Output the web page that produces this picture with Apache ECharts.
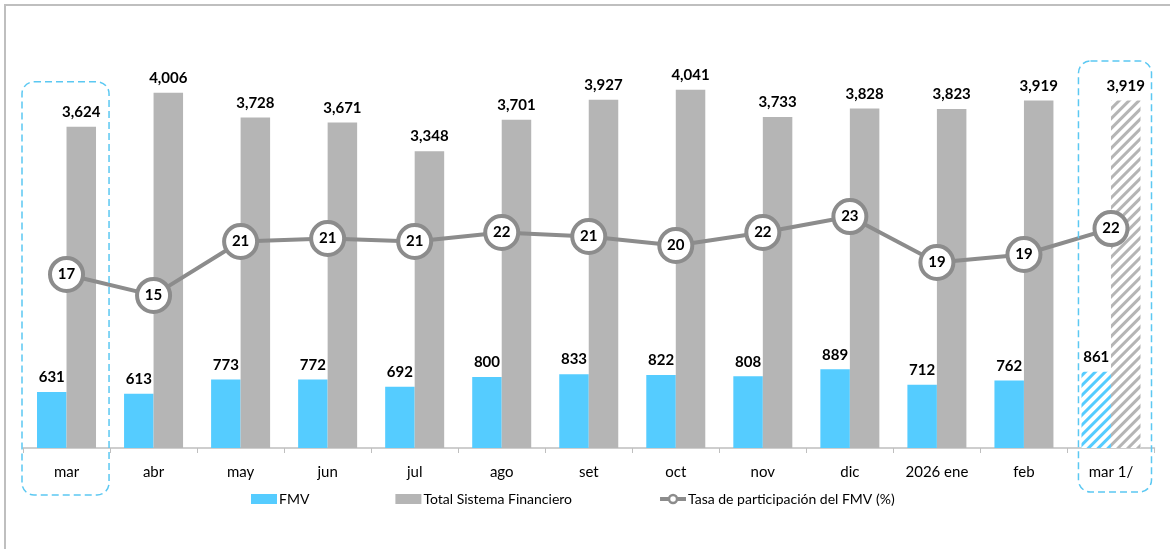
<!DOCTYPE html>
<html>
<head>
<meta charset="utf-8">
<script src="https://cdn.jsdelivr.net/npm/echarts@6/dist/echarts.min.js"></script>
<style>
html,body{margin:0;padding:0;background:#fff;}
#chart{width:1170px;height:549px;}
</style>
</head>
<body>
<div id="chart"></div>
<script>
const categories = ['mar','abr','may','jun','jul','ago','set','oct','nov','dic','2026 ene','feb','mar 1/'];
const fmvValues = [631,613,773,772,692,800,833,822,808,889,712,762,861];
const totalValues = [3624,4006,3728,3671,3348,3701,3927,4041,3733,3828,3823,3919,3919];
const rateValues = [17.4,15.3,20.7,21.0,20.7,21.6,21.2,20.3,21.6,23.2,18.6,19.4,22.0];
const seriesNames = ['FMV','Total Sistema Financiero','Tasa de participación del FMV (%)'];
const hatchedIndex = 12;

const BLUE = '#55CCFF';
const GRAY = '#B5B5B5';
const LINE = '#8C8C8C';
const BOX = '#5BC8F2';
const FONT = 'Lato, "Liberation Sans", sans-serif';

const chart = echarts.init(document.getElementById('chart'), null, {renderer:'canvas'});

function withHatch(values, color){
  return values.map((v,i)=> i===hatchedIndex ? {
    value: v,
    itemStyle: {
      color: '#ffffff',
      decal: {symbol:'rect', color: color, dashArrayX:[1,0], dashArrayY:[3,4], rotation: -Math.PI/4, symbolSize:1}
    }
  } : v);
}

const labelStyle = {show:true, position:'top', distance:7, color:'#000', fontFamily:FONT, fontWeight:'bold', fontSize:15,
  formatter: p => Number(p.value).toLocaleString('en-US')};

chart.setOption({
  animation:false,
  textStyle:{fontFamily:FONT},
  grid:{left:23, right:15.5, top:49, bottom:101, containLabel:false},
  legend:{
    left:246, top:487, itemGap:86, itemWidth:26, itemHeight:10,
    textStyle:{fontFamily:FONT, fontSize:14, color:'#000', padding:[0,0,0,-3]},
    data:[
      {name:seriesNames[0], icon:'rect'},
      {name:seriesNames[1], icon:'rect'},
      {name:seriesNames[2], lineStyle:{color:LINE, width:4},
       itemStyle:{color:'#fff', borderColor:LINE, borderWidth:2.5}}
    ]
  },
  xAxis:{
    type:'category', data:categories, boundaryGap:true,
    axisLine:{lineStyle:{color:'#BFBFBF', width:1.5}},
    axisTick:{show:true, length:5, lineStyle:{color:'#BFBFBF'}},
    axisLabel:{color:'#000', fontFamily:FONT, fontSize:15, margin:17}
  },
  yAxis:[
    {type:'value', min:0, max:4500, show:false, splitLine:{show:false}},
    {type:'value', min:0, max:40, show:false, splitLine:{show:false}}
  ],
  series:[
    {name:seriesNames[0], type:'bar', barWidth:29.5, barGap:'0%', itemStyle:{color:BLUE},
     data:withHatch(fmvValues, BLUE), label:labelStyle, z:2},
    {name:seriesNames[1], type:'bar', barWidth:29.5, barGap:'0%', itemStyle:{color:GRAY},
     data:withHatch(totalValues, GRAY), label:labelStyle, z:2},
    {name:seriesNames[2], type:'line', yAxisIndex:1, data:rateValues, z:5,
     lineStyle:{color:LINE, width:4},
     symbol:'circle', symbolSize:33,
     itemStyle:{color:'#fff', borderColor:LINE, borderWidth:4},
     label:{show:true, position:'inside', color:'#000', fontFamily:FONT, fontWeight:'bold', fontSize:15,
       formatter:p=>Math.round(p.value)}
    }
  ]
});

// annotation boxes around highlighted categories
const boxes = [
  {cat:'mar', topValue:4130, insetL:-1, insetR:1, bottomPad:47},
  {cat:'mar 1/', topValue:4365, insetL:11, insetR:3, bottomPad:44}
];
const c0 = chart.convertToPixel({xAxisIndex:0}, categories[0]);
const c1 = chart.convertToPixel({xAxisIndex:0}, categories[1]);
const catW = c1 - c0;
const axisY = chart.convertToPixel({yAxisIndex:0}, 0);
const graphics = boxes.map(b=>{
  const cx = chart.convertToPixel({xAxisIndex:0}, b.cat);
  const top = chart.convertToPixel({yAxisIndex:0}, b.topValue);
  const x = cx - catW/2 + b.insetL;
  const w = catW - b.insetL - b.insetR;
  return {type:'rect', shape:{x:x, y:top, width:w, height:axisY + b.bottomPad - top, r:12},
    style:{fill:null, stroke:BOX, lineWidth:1.5, lineDash:[7,4]}, z:10, silent:true};
});
graphics.push({type:'line', shape:{x1:5, y1:5, x2:1170, y2:5}, style:{stroke:'#BFBFBF', lineWidth:2}, silent:true});
graphics.push({type:'line', shape:{x1:5, y1:4, x2:5, y2:549}, style:{stroke:'#BFBFBF', lineWidth:2}, silent:true});
chart.setOption({graphic:graphics});
</script>
</body>
</html>
